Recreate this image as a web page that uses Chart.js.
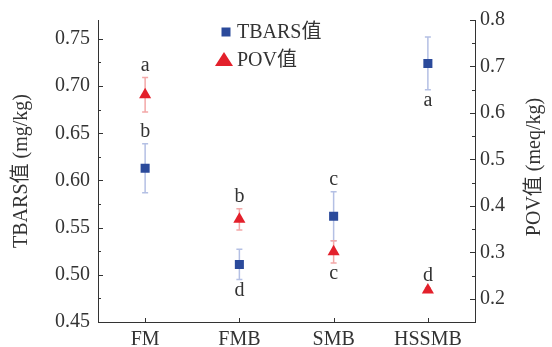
<!DOCTYPE html>
<html>
<head>
<meta charset="utf-8">
<script src="https://cdn.jsdelivr.net/npm/chart.js"></script>
<style>
  html, body { margin: 0; padding: 0; background: #fff; }
  #wrap { width: 552px; height: 347px; }
</style>
</head>
<body>
<div id="wrap"><canvas id="chart" width="552" height="347"></canvas></div>
<script>
// categories and values
const categories = ['FM', 'FMB', 'SMB', 'HSSMB'];

const tbarsMean = [0.613, 0.511, 0.562, 0.724];
const tbarsErr = [0.026, 0.016, 0.026, 0.028];
const tbarsLetters = ['b', 'd', 'c', 'a'];
const tbarsLetterPos = ['above', 'below', 'above', 'below'];

const povMean = [0.639, 0.371, 0.301, 0.219];
const povErr = [0.037, 0.023, 0.024, 0.004];
const povLetters = ['a', 'b', 'c', 'd'];
const povLetterPos = ['above', 'above', 'below', 'above'];

const leftTicks = [0.45, 0.50, 0.55, 0.60, 0.65, 0.70, 0.75];
const rightTicks = [0.2, 0.3, 0.4, 0.5, 0.6, 0.7, 0.8];

const FONT = '"Liberation Serif", "Times New Roman", "Noto Sans CJK SC", serif';
const TEXT = '#333';
const BLUE = '#2b4a9b';
const RED = '#e3202b';

// error bars + significance letters
const errorBarPlugin = {
    id: 'errorBars',
    beforeDatasetsDraw(chart) {
        const ctx = chart.ctx;
        const xs = chart.scales.x;
        chart.data.datasets.forEach(ds => {
            const ys = chart.scales[ds.yAxisID];
            ctx.save();
            ctx.strokeStyle = ds.errColor;
            ctx.lineWidth = 1.5;
            ds.data.forEach((v, i) => {
                const x = xs.getPixelForValue(i);
                const top = ys.getPixelForValue(v + ds.errors[i]);
                const bot = ys.getPixelForValue(v - ds.errors[i]);
                ctx.beginPath();
                ctx.moveTo(x, top); ctx.lineTo(x, bot);
                ctx.moveTo(x - 3, top); ctx.lineTo(x + 3, top);
                ctx.moveTo(x - 3, bot); ctx.lineTo(x + 3, bot);
                ctx.stroke();
            });
            ctx.restore();
        });
    },
    afterDatasetsDraw(chart) {
        const ctx = chart.ctx;
        const xs = chart.scales.x;
        ctx.save();
        ctx.font = '20px ' + FONT;
        ctx.fillStyle = TEXT;
        ctx.textAlign = 'center';
        ctx.textBaseline = 'alphabetic';
        chart.data.datasets.forEach(ds => {
            const ys = chart.scales[ds.yAxisID];
            ds.data.forEach((v, i) => {
                const x = xs.getPixelForValue(i);
                if (ds.letterPos[i] === 'above') {
                    ctx.fillText(ds.letters[i], x, ys.getPixelForValue(v + ds.errors[i]) - 7);
                } else {
                    ctx.fillText(ds.letters[i], x, ys.getPixelForValue(v - ds.errors[i]) + 16);
                }
            });
        });
        ctx.restore();
    }
};

// inward tick marks (major + minor) on all three axes, and the right axis title
const innerTicksPlugin = {
    id: 'innerTicks',
    afterDraw(chart) {
        const ctx = chart.ctx;
        const a = chart.chartArea;
        const yl = chart.scales.y, yr = chart.scales.y2, xs = chart.scales.x;
        ctx.save();
        ctx.strokeStyle = TEXT;
        ctx.lineWidth = 1;
        ctx.beginPath();
        leftTicks.forEach((v, i) => {
            const p = Math.round(yl.getPixelForValue(v)) + 0.5;
            ctx.moveTo(a.left, p); ctx.lineTo(a.left + 5, p);
            if (i < leftTicks.length - 1) {
                const m = Math.round(yl.getPixelForValue((v + leftTicks[i + 1]) / 2)) + 0.5;
                ctx.moveTo(a.left, m); ctx.lineTo(a.left + 3, m);
            }
        });
        rightTicks.forEach((v, i) => {
            const p = Math.round(yr.getPixelForValue(v)) + 0.5;
            ctx.moveTo(a.right, p); ctx.lineTo(a.right - 5, p);
            if (i < rightTicks.length - 1) {
                const m = Math.round(yr.getPixelForValue((v + rightTicks[i + 1]) / 2)) + 0.5;
                ctx.moveTo(a.right, m); ctx.lineTo(a.right - 3, m);
            }
        });
        categories.forEach((c, i) => {
            const p = Math.round(xs.getPixelForValue(i)) + 0.5;
            ctx.moveTo(p, a.bottom); ctx.lineTo(p, a.bottom - 4);
        });
        ctx.stroke();

        // right title reads bottom-to-top like the left one
        ctx.translate(yr.right - 17, (a.top + a.bottom) / 2 - 4);
        ctx.rotate(-Math.PI / 2);
        ctx.font = '20px ' + FONT;
        ctx.fillStyle = TEXT;
        ctx.textAlign = 'center';
        ctx.textBaseline = 'middle';
        ctx.fillText('POV值 (meq/kg)', 0, 0);
        ctx.restore();
    }
};

// legend drawn inside the plot area
const legendPlugin = {
    id: 'innerLegend',
    afterDraw(chart) {
        const ctx = chart.ctx;
        const a = chart.chartArea;
        const x0 = a.left + 128;
        ctx.save();
        ctx.font = '20px ' + FONT;
        ctx.fillStyle = TEXT;
        ctx.textBaseline = 'middle';
        chart.data.datasets.forEach((ds, i) => {
            const y = a.top + 12 + i * 28;
            ctx.fillStyle = ds.backgroundColor;
            ctx.beginPath();
            if (ds.pointStyle === 'rect') {
                ctx.rect(x0 - 4.5, y - 4.5, 9, 9);
            } else {
                ctx.moveTo(x0 - 2, y - 8);
                ctx.lineTo(x0 + 7, y + 6);
                ctx.lineTo(x0 - 11, y + 6);
                ctx.closePath();
            }
            ctx.fill();
            ctx.fillStyle = TEXT;
            ctx.fillText(ds.label, x0 + 11, y + 1);
        });
        ctx.restore();
    }
};

const tickFont = { family: FONT, size: 20 };

new Chart(document.getElementById('chart'), {
    type: 'line',
    data: {
        labels: categories,
        datasets: [{
            label: 'TBARS值',
            data: tbarsMean,
            errors: tbarsErr,
            letters: tbarsLetters,
            letterPos: tbarsLetterPos,
            errColor: '#b4c0e4',
            yAxisID: 'y',
            showLine: false,
            pointStyle: 'rect',
            pointRadius: 6.4,
            pointBorderWidth: 0,
            backgroundColor: BLUE,
            borderColor: BLUE
        }, {
            label: 'POV值',
            data: povMean,
            errors: povErr,
            letters: povLetters,
            letterPos: povLetterPos,
            errColor: '#f3a8a8',
            yAxisID: 'y2',
            showLine: false,
            pointStyle: 'triangle',
            pointRadius: 7,
            pointBorderWidth: 0,
            backgroundColor: RED,
            borderColor: RED
        }]
    },
    options: {
        responsive: false,
        animation: false,
        layout: { padding: { top: 20, right: 0, bottom: 0, left: 0 } },
        plugins: {
            legend: { display: false },
            tooltip: { enabled: false }
        },
        scales: {
            x: {
                type: 'category',
                offset: true,
                grid: { display: false, drawTicks: false },
                border: { display: true, color: TEXT, width: 1 },
                ticks: { color: TEXT, font: tickFont, padding: 6, maxRotation: 0 },
                afterFit(axis) { axis.height = 25; }
            },
            y: {
                position: 'left',
                min: 0.45,
                max: 0.77,
                afterBuildTicks(axis) { axis.ticks = leftTicks.map(v => ({ value: v })); },
                grid: { display: false, drawTicks: false },
                border: { display: true, color: TEXT, width: 1 },
                ticks: {
                    color: TEXT, font: tickFont, padding: 8,
                    callback: v => v.toFixed(2)
                },
                title: {
                    display: true, text: 'TBARS值 (mg/kg)', color: TEXT,
                    font: tickFont, padding: { top: 10, bottom: 0 }
                },
                afterFit(axis) { axis.width = 98; }
            },
            y2: {
                position: 'right',
                min: 0.15,
                max: 0.8,
                afterBuildTicks(axis) { axis.ticks = rightTicks.map(v => ({ value: v })); },
                grid: { display: false, drawTicks: false },
                border: { display: true, color: TEXT, width: 1 },
                ticks: {
                    color: TEXT, font: tickFont, padding: 5,
                    callback: v => v.toFixed(1)
                },
                afterFit(axis) { axis.width = 77; }
            }
        }
    },
    plugins: [errorBarPlugin, innerTicksPlugin, legendPlugin]
});
</script>
</body>
</html>
